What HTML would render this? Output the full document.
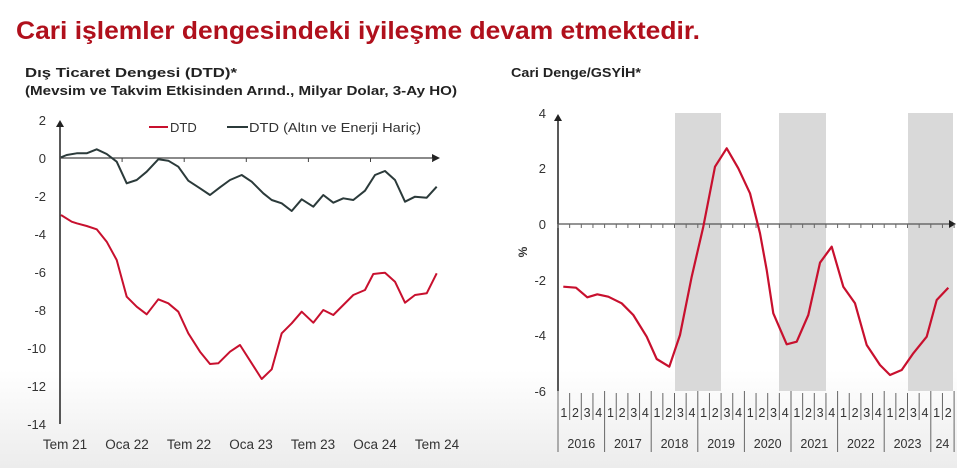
<!DOCTYPE html>
<html><head><meta charset="utf-8">
<style>
html,body{margin:0;padding:0;}
body{width:957px;height:468px;overflow:hidden;background:linear-gradient(to bottom,#fff 0,#fff 370px,#ececec 468px);font-family:"Liberation Sans",sans-serif;}
svg{position:absolute;left:0;top:0;}
</style></head><body>
<svg id="s" width="957" height="468" xmlns="http://www.w3.org/2000/svg" font-family="Liberation Sans, sans-serif">
<text x="16" y="39" font-size="25" font-weight="bold" fill="#b0101c" textLength="684" lengthAdjust="spacingAndGlyphs">Cari işlemler dengesindeki iyileşme devam etmektedir.</text>
<text x="25" y="77" font-size="13" font-weight="bold" fill="#222" textLength="212" lengthAdjust="spacingAndGlyphs">Dış Ticaret Dengesi (DTD)*</text>
<text x="25" y="95" font-size="13" font-weight="bold" fill="#222" textLength="432" lengthAdjust="spacingAndGlyphs">(Mevsim ve Takvim Etkisinden Arınd., Milyar Dolar, 3-Ay HO)</text>
<text x="511" y="77" font-size="13" font-weight="bold" fill="#222" textLength="130" lengthAdjust="spacingAndGlyphs">Cari Denge/GSYİH*</text>

<!-- Left chart -->
<g font-size="13" fill="#333" text-anchor="end">
<text x="46" y="125">2</text><text x="46" y="163">0</text><text x="46" y="201">-2</text><text x="46" y="239">-4</text>
<text x="46" y="277">-6</text><text x="46" y="315">-8</text><text x="46" y="353">-10</text><text x="46" y="391">-12</text><text x="46" y="429">-14</text>
</g>
<line x1="60" y1="124" x2="60" y2="424" stroke="#222" stroke-width="1.5"/>
<polygon points="56,127 60,120 64,127" fill="#222"/>
<line x1="60" y1="158" x2="433" y2="158" stroke="#444" stroke-width="1.2"/>
<polygon points="432,154 440,158 432,162" fill="#222"/>
<g id="lt" stroke="#444" stroke-width="1"></g>
<g font-size="13.5" fill="#333" text-anchor="middle">
<text x="65" y="449">Tem 21</text><text x="127" y="449">Oca 22</text><text x="189" y="449">Tem 22</text><text x="251" y="449">Oca 23</text>
<text x="313" y="449">Tem 23</text><text x="375" y="449">Oca 24</text><text x="437" y="449">Tem 24</text>
</g>
<line x1="149" y1="127" x2="168" y2="127" stroke="#c8102e" stroke-width="2"/>
<text x="170" y="132" font-size="13" fill="#333">DTD</text>
<line x1="227" y1="127" x2="248" y2="127" stroke="#2b3a3a" stroke-width="2"/>
<text x="249" y="132" font-size="13" fill="#333" textLength="172" lengthAdjust="spacingAndGlyphs">DTD (Altın ve Enerji Hariç)</text>
<polyline id="red" fill="none" stroke="#c8102e" stroke-width="2" stroke-linejoin="round"/>
<polyline id="blk" fill="none" stroke="#2b3a3a" stroke-width="2" stroke-linejoin="round"/>

<!-- Right chart -->
<rect x="675" y="113" width="46" height="278" fill="#d9d9d9"/>
<rect x="779" y="113" width="47" height="278" fill="#d9d9d9"/>
<rect x="908" y="113" width="45" height="278" fill="#d9d9d9"/>
<g font-size="13" fill="#333" text-anchor="end">
<text x="546" y="118">4</text><text x="546" y="173">2</text><text x="546" y="229">0</text>
<text x="546" y="285">-2</text><text x="546" y="340">-4</text><text x="546" y="396">-6</text>
</g>
<text transform="translate(527,252) rotate(-90)" font-size="12" font-weight="bold" fill="#333" text-anchor="middle">%</text>
<line x1="558" y1="118" x2="558" y2="391" stroke="#222" stroke-width="1.5"/>
<polygon points="554,121 558,114 562,121" fill="#222"/>
<line x1="558" y1="224" x2="950" y2="224" stroke="#555" stroke-width="1.2"/>
<polygon points="949,220 956,224 949,228" fill="#222"/>
<g id="rt" stroke="#666" stroke-width="1"></g>
<g id="rq" font-size="12.5" fill="#333" text-anchor="middle"></g>
<polyline id="red2" fill="none" stroke="#c8102e" stroke-width="2.2" stroke-linejoin="round"/>
</svg>
<script>
function pts(a,ox,oy){var s=[];for(var i=0;i<a.length;i+=2)s.push((a[i]/3+ox).toFixed(1)+","+(a[i+1]/3+oy).toFixed(1));return s.join(" ");}
var red=[183,345,215,365,230,370,260,378,290,388,320,425,350,480,380,590,410,620,440,643,475,598,505,610,535,635,565,700,600,755,630,792,655,790,690,755,720,735,755,790,785,837,815,808,845,700,875,670,905,635,940,668,970,630,1000,645,1030,615,1060,585,1095,570,1120,522,1155,518,1185,545,1215,608,1245,585,1280,580,1310,520];
var blk=[183,172,200,165,230,160,260,160,290,148,320,162,350,185,380,250,410,240,440,215,475,178,505,182,535,200,565,242,600,265,630,285,660,262,690,240,725,225,755,245,790,280,815,300,845,310,875,333,905,298,940,320,970,285,1000,308,1030,295,1060,300,1095,272,1125,225,1155,213,1185,240,1215,305,1245,290,1280,293,1310,260];
var r2=[190,560,228,563,262,592,292,583,325,590,365,610,400,645,440,710,470,777,508,800,540,705,575,530,610,380,645,200,680,145,715,205,750,280,780,400,800,510,820,640,860,733,890,725,925,645,960,488,995,440,1030,560,1065,610,1100,735,1140,795,1170,825,1205,810,1240,760,1280,710,1310,600,1345,563];
document.getElementById("red").setAttribute("points",pts(red,0,100));
document.getElementById("blk").setAttribute("points",pts(blk,0,100));
document.getElementById("red2").setAttribute("points",pts(r2,500,100));
var NS="http://www.w3.org/2000/svg";
function ln(g,x1,y1,x2,y2){var l=document.createElementNS(NS,"line");l.setAttribute("x1",x1);l.setAttribute("y1",y1);l.setAttribute("x2",x2);l.setAttribute("y2",y2);g.appendChild(l);}
function tx(g,x,y,t){var e=document.createElementNS(NS,"text");e.setAttribute("x",x);e.setAttribute("y",y);e.textContent=t;g.appendChild(e);}
var lt=document.getElementById("lt");
for(var i=1;i<=6;i++){var x=60+i*62.1;ln(lt,x,158,x,162);}
var rt=document.getElementById("rt"),rq=document.getElementById("rq");
var q=11.65;
for(var i=0;i<=34;i++){var x=558+i*q;ln(rt,x,224,x,228);
 if(i%4==0||i==34){ln(rt,x,391,x,452);}else{ln(rt,x,393,x,420);}
 if(i<34)tx(rq,x+q/2,417,String(i%4+1));}
var yrs=["2016","2017","2018","2019","2020","2021","2022","2023"];
for(var k=0;k<8;k++)tx(rq,558+(k*4+2)*q,448,yrs[k]);
tx(rq,558+33*q,448,"24");
rq.setAttribute("font-size","12.5");
</script>
</body></html>
